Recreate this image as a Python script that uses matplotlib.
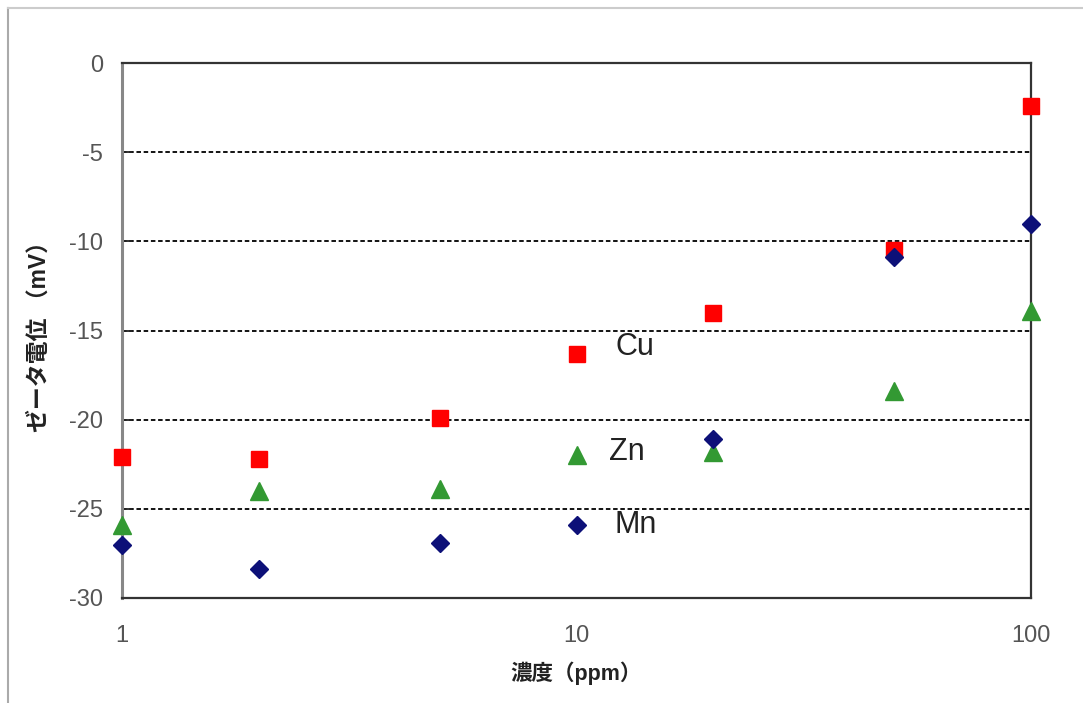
import matplotlib
matplotlib.use("Agg")
import matplotlib.pyplot as plt
from matplotlib.lines import Line2D

plt.rcParams['font.family'] = ['Liberation Sans', 'Noto Sans CJK JP', 'DejaVu Sans']

# concentration (ppm) and zeta potential (mV)
conc = [1, 2, 5, 10, 20, 50, 100]
cu = [-22.1, -22.2, -19.9, -16.3, -14.0, -10.5, -2.4]
zn = [-25.9, -24.0, -23.9, -22.0, -21.8, -18.4, -13.9]
mn = [-27.0, -28.4, -26.9, -25.9, -21.1, -10.9, -9.0]

yticks = [0, -5, -10, -15, -20, -25, -30]
xticks = [1, 10, 100]

fig = plt.figure(figsize=(10.83, 7.03), dpi=100)
ax = fig.add_axes([122 / 1083, 1 - 598 / 703, (1031 - 122) / 1083, (598 - 63) / 703])

# dashed horizontal grid lines
for y in yticks[1:-1]:
    ax.axhline(y, color='black', lw=1.3, ls=(0, (2.5, 1.5)), zorder=1)

ax.plot(conc, cu, ls='none', marker='s', ms=12, color='#ff0000', mec='#ff0000', zorder=3, clip_on=False)
ax.plot(conc, zn, ls='none', marker='^', ms=13, color='#339933', mec='#339933', zorder=3, clip_on=False)
ax.plot(conc, mn, ls='none', marker='D', ms=9.5, color='#0d1078', mec='#0d1078', zorder=4, clip_on=False)

# series labels
ax.text(12.2, -16.37, 'Cu', fontsize=22, color='#222222', va='baseline', ha='left')
ax.text(11.8, -22.26, 'Zn', fontsize=22, color='#222222', va='baseline', ha='left')
ax.text(12.1, -26.36, 'Mn', fontsize=22, color='#222222', va='baseline', ha='left')

ax.set_xscale('log')
ax.set_xlim(1, 100)
ax.set_ylim(-30, 0)
ax.set_xticks(xticks)
ax.set_xticklabels([str(x) for x in xticks])
ax.minorticks_off()
ax.set_yticks(yticks)
ax.set_yticklabels([str(y) for y in yticks])
ax.tick_params(axis='x', length=0, pad=19.5, labelsize=17, labelcolor='#555555')
ax.tick_params(axis='y', direction='in', length=7, width=1.3, color='#222222',
               pad=13.5, labelsize=17, labelcolor='#555555')

for side in ['top', 'right', 'bottom']:
    ax.spines[side].set_color('#333333')
    ax.spines[side].set_linewidth(1.6)
ax.spines['left'].set_color('#888888')
ax.spines['left'].set_linewidth(2.2)
ax.spines['left'].set_zorder(2.5)

ax.set_xlabel('濃度（ppm）', fontsize=15.5, fontweight='bold', color='#222222', labelpad=10.5)
ax.set_ylabel('ゼータ電位 （mV）', fontsize=16.5, fontweight='bold', color='#222222', labelpad=13)

# outer frame (left and top edges)
fig.add_artist(Line2D([8 / 1083, 8 / 1083], [0, 1 - 8 / 703], color='#aaaaaa', lw=1.5))
fig.add_artist(Line2D([8 / 1083, 1], [1 - 8 / 703, 1 - 8 / 703], color='#cccccc', lw=1.5))

fig.savefig('out.png', dpi=100)
